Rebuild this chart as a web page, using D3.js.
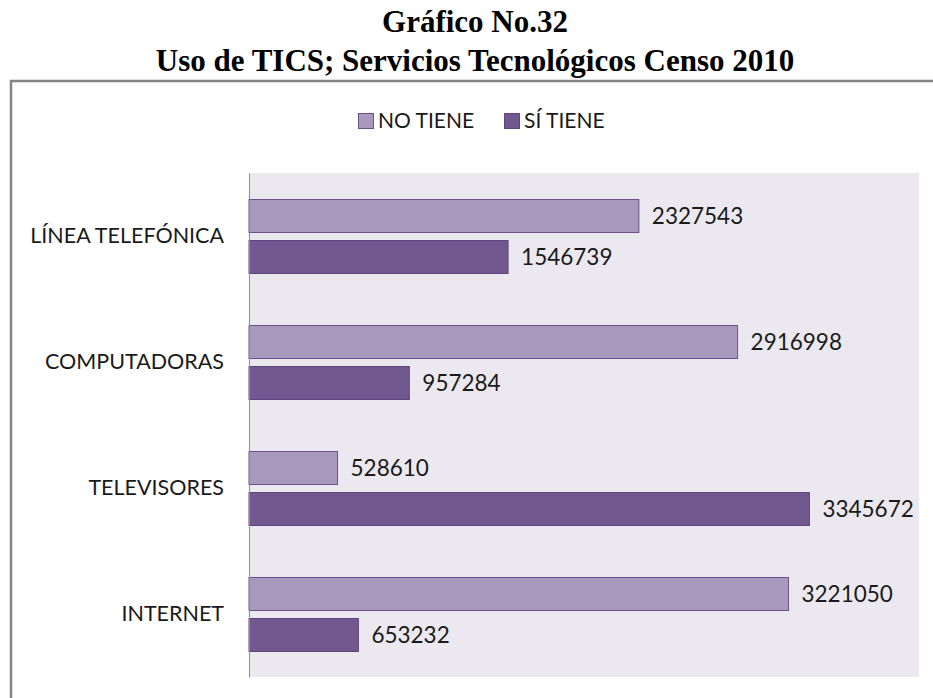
<!DOCTYPE html>
<html>
<head>
<meta charset="utf-8">
<script src="https://cdn.jsdelivr.net/npm/d3@7"></script>
<style>
  html, body { margin: 0; padding: 0; background: #ffffff; }
  svg { display: block; }
</style>
</head>
<body>
<svg id="chart" width="933" height="698"></svg>
<script>
// Servicios tecnológicos, Censo 2010
const categories = ["LÍNEA TELEFÓNICA", "COMPUTADORAS", "TELEVISORES", "INTERNET"];
const seriesNames = ["NO TIENE", "SÍ TIENE"];
const noTiene = [2327543, 2916998, 528610, 3221050];
const siTiene = [1546739, 957284, 3345672, 653232];
const titleLines = ["Gráfico No.32", "Uso de TICS; Servicios Tecnológicos Censo 2010"];

const fills = ["#a99abd", "#71588f"];
const strokes = ["#6a5389", "#5d4780"];

const svg = d3.select("#chart");
const W = 933, H = 698;

// Title
svg.selectAll("text.title")
  .data(titleLines)
  .join("text")
  .attr("class", "title")
  .attr("x", 475)
  .attr("y", (d, i) => 32 + i * 39)
  .attr("text-anchor", "middle")
  .attr("font-family", "'Liberation Serif', 'Times New Roman', serif")
  .attr("font-weight", "bold")
  .attr("font-size", 31)
  .attr("fill", "#000")
  .text(d => d);

// Chart frame
svg.append("rect")
  .attr("x", 11).attr("y", 81)
  .attr("width", W + 10).attr("height", H)
  .attr("fill", "#ffffff")
  .attr("stroke", "#858585")
  .attr("stroke-width", 2.5);

// Plot area
const plot = { left: 249, top: 173, right: 919, bottom: 677 };

svg.append("rect")
  .attr("x", plot.left).attr("y", plot.top)
  .attr("width", plot.right - plot.left)
  .attr("height", plot.bottom - plot.top)
  .attr("fill", "#ebe9ef");

const x = d3.scaleLinear().domain([0, 4000000]).range([plot.left, plot.right]);
const y0 = d3.scaleBand().domain(categories).range([plot.top, plot.bottom]).paddingInner(0).paddingOuter(0);

const rows = categories.map((c, i) => ({ cat: c, values: [noTiene[i], siTiene[i]] }));

const barH = 33, barGap = 8;
const groupSpan = 2 * barH + barGap;

const g = svg.append("g");
const groups = g.selectAll("g.cat")
  .data(rows)
  .join("g")
  .attr("class", "cat")
  .attr("transform", d => `translate(0,${y0(d.cat) + (y0.bandwidth() - groupSpan) / 2})`);

groups.selectAll("rect")
  .data(d => d.values.map((v, k) => ({ v, k })))
  .join("rect")
  .attr("x", x(0))
  .attr("y", d => d.k * (barH + barGap) + 0.5)
  .attr("width", d => x(d.v) - x(0))
  .attr("height", barH)
  .attr("fill", d => fills[d.k])
  .attr("stroke", d => strokes[d.k])
  .attr("stroke-width", 1);

groups.selectAll("text.val")
  .data(d => d.values.map((v, k) => ({ v, k })))
  .join("text")
  .attr("class", "val")
  .attr("x", d => x(d.v) + 13)
  .attr("y", d => d.k * (barH + barGap) + barH / 2 + 1)
  .attr("dy", "0.35em")
  .attr("font-family", "Lato, 'Open Sans', sans-serif")
  .attr("font-size", 22.5)
  .attr("fill", "#1a1a1a")
  .text(d => d.v);

// Category axis
const yAxis = d3.axisLeft(y0).tickSize(0).tickPadding(25);
const ax = svg.append("g")
  .attr("transform", `translate(${plot.left},0)`)
  .call(yAxis);
ax.select(".domain").attr("stroke", "#8c8c8c").attr("stroke-width", 1);
ax.selectAll("text")
  .attr("font-family", "Lato, 'Open Sans', sans-serif")
  .attr("font-size", 21.5)
  .attr("fill", "#1a1a1a");

// Legend
const legend = svg.append("g").attr("transform", "translate(358,113)");
const legX = [0, 146];
const li = legend.selectAll("g")
  .data(seriesNames)
  .join("g")
  .attr("transform", (d, i) => `translate(${legX[i]},0)`);
li.append("rect")
  .attr("x", 0.5).attr("y", 0.5)
  .attr("width", 15).attr("height", 15)
  .attr("fill", (d, i) => fills[i])
  .attr("stroke", (d, i) => strokes[i]);
li.append("text")
  .attr("x", 20).attr("y", 8)
  .attr("dy", "0.35em")
  .attr("font-family", "Lato, 'Open Sans', sans-serif")
  .attr("font-size", 21)
  .attr("fill", "#1a1a1a")
  .text(d => d);
</script>
</body>
</html>
